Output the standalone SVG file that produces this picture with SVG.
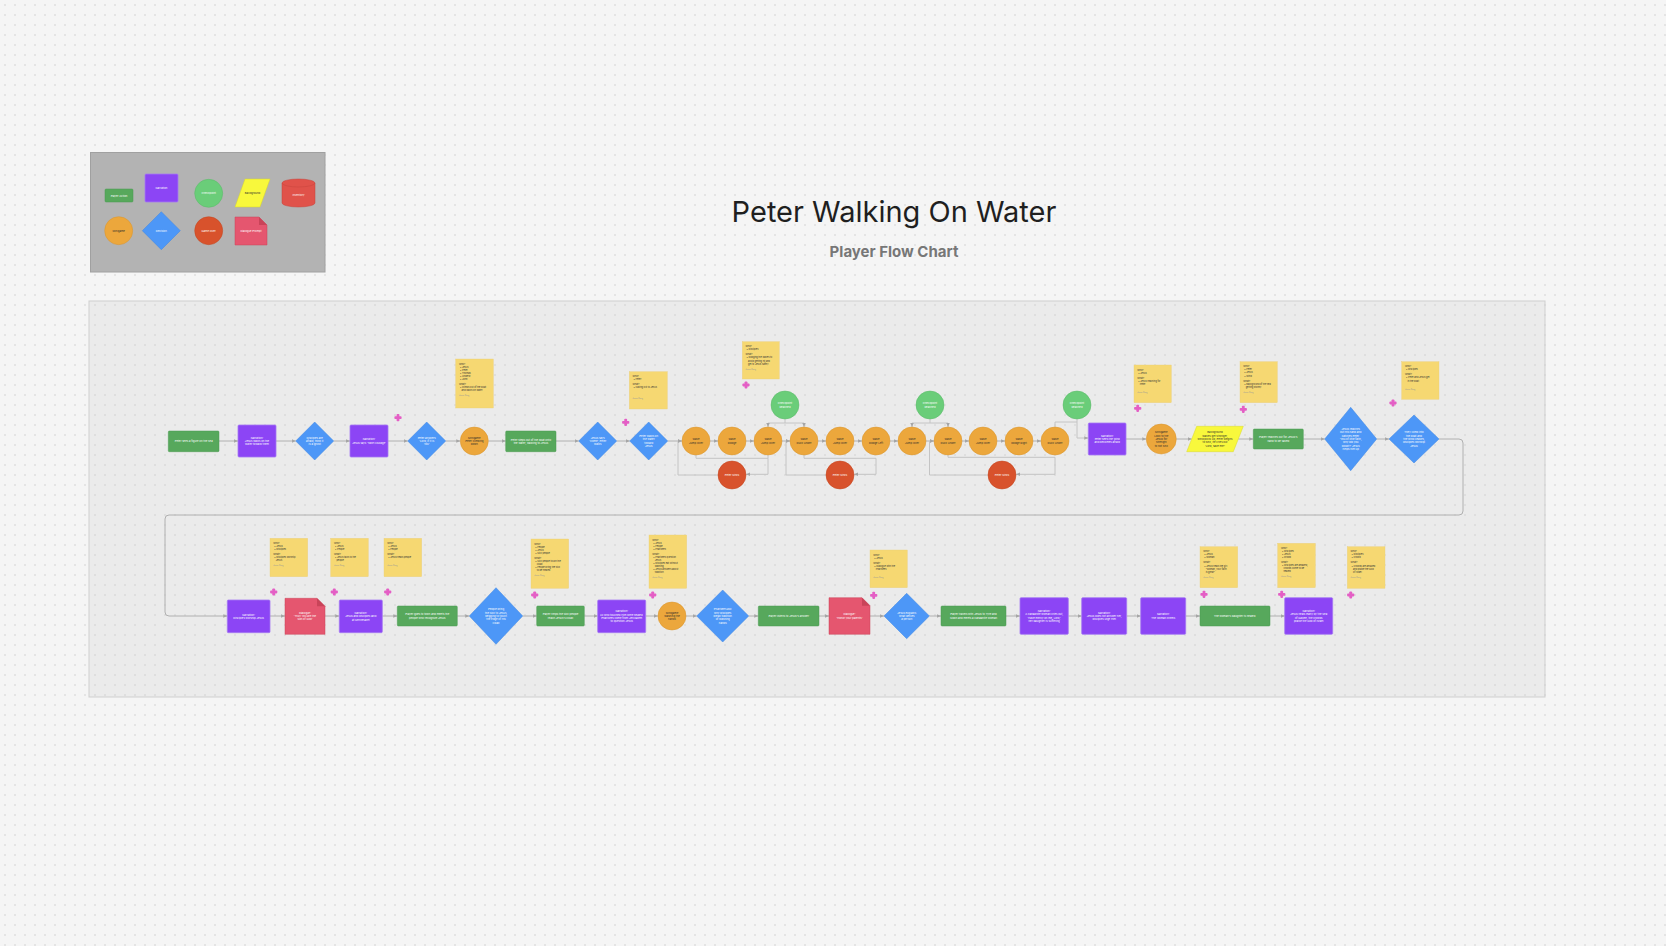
<svg xmlns="http://www.w3.org/2000/svg" width="1666" height="946" viewBox="0 0 1666 946">
<defs>
<pattern id="dots" width="10" height="10" patternUnits="userSpaceOnUse"><circle cx="5" cy="5" r="0.75" fill="#c9c9c9"/></pattern>
<marker id="ah" viewBox="0 0 10 10" refX="9" refY="5" markerWidth="4.5" markerHeight="4.5" markerUnits="userSpaceOnUse" orient="auto"><path d="M0,1 L9,5 L0,9 z" fill="#a6a6a6"/></marker>
<g id="plus"><rect x="-3.6" y="-1.4" width="7.2" height="2.8" rx="0.8"/><rect x="-1.4" y="-3.6" width="2.8" height="7.2" rx="0.8"/></g>
</defs>
<style>
.t{font-family:Inter,'Liberation Sans',sans-serif;font-size:2.7px;fill:#fff;text-anchor:middle}
.td{fill:#2b2b2b}
.sn{font-family:Inter,'Liberation Sans',sans-serif;font-size:2.3px;fill:#333}
.ft{fill:#999;font-size:1.8px}
.pa{fill:#57a85c;stroke:#4b9a50;stroke-width:0.5}
.na{fill:#8c45f5;stroke:#a57af2;stroke-width:0.8}
.dc{fill:#4d97f7;stroke:#3f86e3;stroke-width:0.5}
.mg{fill:#eca73c;stroke:#d9952e;stroke-width:0.5}
.go{fill:#d8522c;stroke:#c2461f;stroke-width:0.5}
.cy{fill:#e0524a;stroke:#c6443c;stroke-width:0.5}
.cp{fill:#6acd79;stroke:#5ab969;stroke-width:0.5}
.dl{fill:#e5566f;stroke:#c94459;stroke-width:0.5}
.bk{fill:#f8f83c;stroke:#d9d92a;stroke-width:0.5}
.st{fill:#f6d872;stroke:#ead07a;stroke-width:0.4}
.cn{fill:none;stroke:#b0b0b0;stroke-width:1;marker-end:url(#ah)}
.ln{fill:none;stroke:#b0b0b0;stroke-width:1}
.lp{fill:none;stroke:#c4c4c4;stroke-width:1;marker-end:url(#ah)}
.pl{fill:#e45fc5}
.ttl{font-family:Inter,'Liberation Sans',sans-serif;text-anchor:middle}
</style>
<rect width="1666" height="946" fill="#f5f5f5"/>
<rect x="89" y="301" width="1456" height="396" fill="#ebebeb" stroke="#cfcfcf" stroke-width="1"/>
<rect width="1666" height="946" fill="url(#dots)"/>

<g id="title">
<text class="ttl" x="894" y="222" font-size="29" fill="#1f1f1f">Peter Walking On Water</text>
<text class="ttl" x="894" y="257" font-size="15" font-weight="700" fill="#777">Player Flow Chart</text>
</g>

<g id="legend">
<rect x="90.5" y="152.5" width="234.5" height="119.5" fill="#b3b3b3" stroke="#a0a0a0"/>
<rect class="pa" x="105" y="189" width="28" height="13" rx="1"/><text class="t" x="119" y="196.5" font-size="2.5">Player Action</text>
<rect class="na" x="145" y="174" width="33" height="28" rx="1"/><text class="t" x="161.5" y="189">Narration</text>
<circle class="cp" cx="208.7" cy="193.3" r="14"/><text class="t" x="208.7" y="194.3">Checkpoint</text>
<polygon class="bk" points="245,179 270,179 260,207 235,207"/><text class="t td" x="252.5" y="194">Background</text>
<path class="cy" d="M282,183 A16.5,4 0 0 1 315,183 V203 A16.5,4 0 0 1 282,203 Z"/><path d="M282,183 A16.5,4 0 0 0 315,183" fill="none" stroke="#c6443c" stroke-width="0.5"/><text class="t" x="298.5" y="196">Inventory</text>
<circle class="mg" cx="118.7" cy="230.7" r="14"/><text class="t td" x="118.7" y="231.7">Minigame</text>
<polygon class="dc" points="161.3,211.7 180.3,230.7 161.3,249.7 142.3,230.7"/><text class="t" x="161.3" y="231.7">Decision</text>
<circle class="go" cx="208.7" cy="230.7" r="14"/><text class="t" x="208.7" y="231.7">Game Over</text>
<path class="dl" d="M235,217 H259 L267,225 V245 H235 Z"/><path d="M259,217 V225 H267 Z" fill="#c94459"/><text class="t" x="251" y="232">Dialogue Prompt</text>
</g>

<g id="connectors">
<path class="cn" d="M219,441 H238"/>
<path class="cn" d="M276,441 H295.7"/>
<path class="cn" d="M333.7,441 H350"/>
<path class="cn" d="M388,441 H407.7"/>
<path class="cn" d="M445.7,441 H460.3"/>
<path class="cn" d="M488.3,441 H505.7"/>
<path class="cn" d="M556,441 H578.7"/>
<path class="cn" d="M616.7,441 H629.7"/>
<path class="cn" d="M667.7,441 H682"/>
<path class="cn" d="M710,441 H718"/>
<path class="cn" d="M746,441 H754"/>
<path class="cn" d="M782,441 H790"/>
<path class="cn" d="M818,441 H826"/>
<path class="cn" d="M854,441 H862"/>
<path class="cn" d="M890,441 H898"/>
<path class="cn" d="M926,441 H934"/>
<path class="cn" d="M962,441 H969"/>
<path class="cn" d="M997,441 H1005"/>
<path class="cn" d="M1033,441 H1041"/>
<path class="cn" d="M1126,439 H1146.3"/>
<path class="cn" d="M1176.3,439 H1191.7"/>
<path class="cn" d="M1238.3,439 H1253.3"/>
<path class="cn" d="M1303.3,439 H1324.7"/>
<path class="cn" d="M1376.7,439 H1389"/>
<path class="cn" d="M1439,439 H1459 Q1463,439 1463,443 V511 Q1463,515 1459,515 H169 Q165,515 165,519 V612 Q165,616 169,616 H227.3"/>
<path class="lp" d="M696,455 V458.3 H768 V474.3 H746"/>
<path class="ln" style="stroke:#c4c4c4" d="M768,455 V458.3"/>
<path class="lp" d="M718,475 H678 V441 H682"/>
<path class="lp" d="M804,455 V458.3 H876 V474.3 H854"/>
<path class="lp" d="M826,475 H786 V441 H790"/>
<path class="lp" d="M948,455 V457.3 H1055 V474.3 H1016"/>
<path class="lp" d="M988,475 H929.5 V441 H934"/>
<path class="lp" d="M785,419 V423 H768 V427"/>
<path class="lp" d="M785,423 H804 V427"/>
<path class="lp" d="M930,419 V423 H912 V427"/>
<path class="lp" d="M930,423 H948 V427"/>
<path class="lp" d="M1055,427 V422 H1077 V438 H1088.3"/>
<path class="ln" style="stroke:#c4c4c4" d="M1077,419 V422"/>
<path class="cn" d="M270,616 H285"/>
<path class="cn" d="M325,616 H339.3"/>
<path class="cn" d="M382.3,616 H397.3"/>
<path class="cn" d="M457.3,616 H469.3"/>
<path class="cn" d="M522.7,616 H536.7"/>
<path class="cn" d="M584.3,616 H597.7"/>
<path class="cn" d="M645.7,616 H658"/>
<path class="cn" d="M686,616 H696.7"/>
<path class="cn" d="M748.7,616 H758.3"/>
<path class="cn" d="M819,616 H829"/>
<path class="cn" d="M870,616 H884"/>
<path class="cn" d="M929.4,616 H941"/>
<path class="cn" d="M1006,616 H1020"/>
<path class="cn" d="M1068.3,616 H1081.7"/>
<path class="cn" d="M1126.7,616 H1140.7"/>
<path class="cn" d="M1185.7,616 H1200"/>
<path class="cn" d="M1270,616 H1284.7"/>
</g>

<g id="n1"><rect class="pa" x="168.3" y="431" width="50.7" height="20.7" rx="1"/><text class="t" x="193.7" y="442.3">Peter sees a figure on the sea</text></g>
<g id="n2"><rect class="na" x="238" y="425" width="38" height="32" rx="1"/><text class="t" y="438.55"><tspan x="257">Narration:</tspan><tspan x="257" dy="3.4">Jesus walks on the</tspan><tspan x="257" dy="3.4">water toward them</tspan></text></g>
<g id="n3"><polygon class="dc" points="314.7,422 333.7,441 314.7,460 295.7,441"/><text class="t" y="438.55"><tspan x="314.7">Disciples are</tspan><tspan x="314.7" dy="3.4">afraid, think it</tspan><tspan x="314.7" dy="3.4">is a ghost</tspan></text></g>
<g id="n4"><rect class="na" x="350" y="425" width="38" height="32" rx="1"/><text class="t" y="440.25"><tspan x="369">Narration:</tspan><tspan x="369" dy="3.4">Jesus says 'Take courage'</tspan></text></g>
<g id="n5"><polygon class="dc" points="426.7,422 445.7,441 426.7,460 407.7,441"/><text class="t" y="438.55"><tspan x="426.7">Peter answers</tspan><tspan x="426.7" dy="3.4">'Lord, if it is</tspan><tspan x="426.7" dy="3.4">You'</tspan></text></g>
<g id="n6"><circle class="mg" cx="474.3" cy="441" r="14"/><text class="t td" y="438.55"><tspan x="474.3">Minigame</tspan><tspan x="474.3" dy="3.4">Peter climbing</tspan><tspan x="474.3" dy="3.4">down</tspan></text></g>
<g id="n7"><rect class="pa" x="505.7" y="431" width="50.3" height="20.7" rx="1"/><text class="t" y="440.6"><tspan x="530.9">Peter steps out of the boat onto</tspan><tspan x="530.9" dy="3.4">the water, walking to Jesus</tspan></text></g>
<g id="n8"><polygon class="dc" points="597.7,422 616.7,441 597.7,460 578.7,441"/><text class="t" y="438.55"><tspan x="597.7">Jesus says</tspan><tspan x="597.7" dy="3.4">'Come', Peter</tspan><tspan x="597.7" dy="3.4">walks</tspan></text></g>
<g id="n9"><polygon class="dc" points="648.7,422 667.7,441 648.7,460 629.7,441"/><text class="t" y="436.85"><tspan x="648.7">Peter walks on</tspan><tspan x="648.7" dy="3.4">the water</tspan><tspan x="648.7" dy="3.4">toward</tspan><tspan x="648.7" dy="3.4">Jesus</tspan></text></g>
<g id="w1"><circle class="mg" cx="696" cy="441" r="14"/><text class="t td" y="440.25"><tspan x="696">Wave</tspan><tspan x="696" dy="3.4">Jump Over</tspan></text></g>
<g id="w2"><circle class="mg" cx="732" cy="441" r="14"/><text class="t td" y="440.25"><tspan x="732">Wave</tspan><tspan x="732" dy="3.4">Dodge</tspan></text></g>
<g id="w3"><circle class="mg" cx="768" cy="441" r="14"/><text class="t td" y="440.25"><tspan x="768">Wave</tspan><tspan x="768" dy="3.4">Jump Over</tspan></text></g>
<g id="w4"><circle class="mg" cx="804" cy="441" r="14"/><text class="t td" y="440.25"><tspan x="804">Wave</tspan><tspan x="804" dy="3.4">Duck Under</tspan></text></g>
<g id="w5"><circle class="mg" cx="840" cy="441" r="14"/><text class="t td" y="440.25"><tspan x="840">Wave</tspan><tspan x="840" dy="3.4">Jump Over</tspan></text></g>
<g id="w6"><circle class="mg" cx="876" cy="441" r="14"/><text class="t td" y="440.25"><tspan x="876">Wave</tspan><tspan x="876" dy="3.4">Dodge Left</tspan></text></g>
<g id="w7"><circle class="mg" cx="912" cy="441" r="14"/><text class="t td" y="440.25"><tspan x="912">Wave</tspan><tspan x="912" dy="3.4">Jump Over</tspan></text></g>
<g id="w8"><circle class="mg" cx="948" cy="441" r="14"/><text class="t td" y="440.25"><tspan x="948">Wave</tspan><tspan x="948" dy="3.4">Duck Under</tspan></text></g>
<g id="w9"><circle class="mg" cx="983" cy="441" r="14"/><text class="t td" y="440.25"><tspan x="983">Wave</tspan><tspan x="983" dy="3.4">Jump Over</tspan></text></g>
<g id="w10"><circle class="mg" cx="1019" cy="441" r="14"/><text class="t td" y="440.25"><tspan x="1019">Wave</tspan><tspan x="1019" dy="3.4">Dodge Right</tspan></text></g>
<g id="w11"><circle class="mg" cx="1055" cy="441" r="14"/><text class="t td" y="440.25"><tspan x="1055">Wave</tspan><tspan x="1055" dy="3.4">Duck Under</tspan></text></g>
<g id="r1"><circle class="go" cx="732" cy="475" r="14"/><text class="t" x="732" y="476">Peter Sinks</text></g>
<g id="r2"><circle class="go" cx="840" cy="475" r="14"/><text class="t" x="840" y="476">Peter Sinks</text></g>
<g id="r3"><circle class="go" cx="1002" cy="475" r="14"/><text class="t" x="1002" y="476">Peter Sinks</text></g>
<g id="c1"><circle class="cp" cx="785" cy="405" r="14"/><text class="t" y="404.25"><tspan x="785">Checkpoint</tspan><tspan x="785" dy="3.4">Reached</tspan></text></g>
<g id="c2"><circle class="cp" cx="930" cy="405" r="14"/><text class="t" y="404.25"><tspan x="930">Checkpoint</tspan><tspan x="930" dy="3.4">Reached</tspan></text></g>
<g id="c3"><circle class="cp" cx="1077" cy="405" r="14"/><text class="t" y="404.25"><tspan x="1077">Checkpoint</tspan><tspan x="1077" dy="3.4">Reached</tspan></text></g>
<g id="n10"><rect class="na" x="1088.3" y="423" width="37.7" height="32" rx="1"/><text class="t" y="436.55"><tspan x="1107.2">Narration:</tspan><tspan x="1107.2" dy="3.4">Peter sees the wind</tspan><tspan x="1107.2" dy="3.4">and becomes afraid</tspan></text></g>
<g id="n11"><circle class="mg" cx="1161.3" cy="439" r="15"/><text class="t td" y="433.15"><tspan x="1161.3">Minigame</tspan><tspan x="1161.3" dy="3.4">Look to the</tspan><tspan x="1161.3" dy="3.4">Jesus for</tspan><tspan x="1161.3" dy="3.4">strength</tspan><tspan x="1161.3" dy="3.4">to not sink</tspan></text></g>
<g id="n12"><polygon class="bk" points="1196.7,426.3 1243.3,426.3 1233.3,451.7 1186.7,451.7"/><text class="t td" font-size="2.5" y="433.15"><tspan x="1215">Background</tspan><tspan x="1215" dy="3.4">Waves get stronger,</tspan><tspan x="1215" dy="3.4">wind picks up, Peter begins</tspan><tspan x="1215" dy="3.4">to sink, he cries out</tspan><tspan x="1215" dy="3.4">'Lord, save me!'</tspan></text></g>
<g id="n13"><rect class="pa" x="1253.3" y="429" width="50" height="20" rx="1"/><text class="t" y="438.25"><tspan x="1278.3">Player reaches out for Jesus's</tspan><tspan x="1278.3" dy="3.4">hand to be saved</tspan></text></g>
<g id="n14"><polygon class="dc" points="1350.7,407.3 1376.7,439 1350.7,470.7 1324.7,439"/><text class="t" y="429.75"><tspan x="1350.7">Jesus reaches</tspan><tspan x="1350.7" dy="3.4">out His hand and</tspan><tspan x="1350.7" dy="3.4">catches Peter.</tspan><tspan x="1350.7" dy="3.4">'You of little faith,</tspan><tspan x="1350.7" dy="3.4">why did you</tspan><tspan x="1350.7" dy="3.4">doubt?' Jesus</tspan><tspan x="1350.7" dy="3.4">helps him up</tspan></text></g>
<g id="n15"><polygon class="dc" points="1414,415 1439,439 1414,463 1389,439"/><text class="t" y="433.15"><tspan x="1414">They climb into</tspan><tspan x="1414" dy="3.4">the boat and</tspan><tspan x="1414" dy="3.4">the wind ceases,</tspan><tspan x="1414" dy="3.4">disciples worship</tspan><tspan x="1414" dy="3.4">Jesus</tspan></text></g>

<g id="m1"><rect class="na" x="227.3" y="600" width="42.7" height="32.7" rx="1"/><text class="t" y="615.6"><tspan x="248.65">Narration:</tspan><tspan x="248.65" dy="3.4">Disciples worship Jesus</tspan></text></g>
<g id="m2"><path class="dl" d="M285,598.3 H317 L325,606.3 V634.3 H285 Z"/><path d="M317,598.3 V606.3 H325 Z" fill="#c94459"/><text class="t" y="613.55"><tspan x="305">Dialogue:</tspan><tspan x="305" dy="3.4">'Truly You are the</tspan><tspan x="305" dy="3.4">Son of God'</tspan></text></g>
<g id="m3"><rect class="na" x="339.3" y="600" width="43" height="32.7" rx="1"/><text class="t" y="613.9"><tspan x="360.8">Narration:</tspan><tspan x="360.8" dy="3.4">Jesus and disciples land</tspan><tspan x="360.8" dy="3.4">at Gennesaret</tspan></text></g>
<g id="m4"><rect class="pa" x="397.3" y="606" width="60" height="20" rx="1"/><text class="t" y="615.25"><tspan x="427.3">Player goes to town and meets the</tspan><tspan x="427.3" dy="3.4">people who recognize Jesus</tspan></text></g>
<g id="m5"><polygon class="dc" points="496,587.7 522.7,616 496,644.3 469.3,616"/><text class="t" y="610.15"><tspan x="496">People bring</tspan><tspan x="496" dy="3.4">the sick to Jesus,</tspan><tspan x="496" dy="3.4">begging to touch</tspan><tspan x="496" dy="3.4">the edge of His</tspan><tspan x="496" dy="3.4">cloak</tspan></text></g>
<g id="m6"><rect class="pa" x="536.7" y="606" width="47.6" height="20" rx="1"/><text class="t" y="615.25"><tspan x="560.5">Player helps the sick people</tspan><tspan x="560.5" dy="3.4">reach Jesus's cloak</tspan></text></g>
<g id="m7"><rect class="na" x="597.7" y="600" width="48" height="32.7" rx="1"/><text class="t" y="612.2"><tspan x="621.7">Narration:</tspan><tspan x="621.7" dy="3.4">All who touched Him were healed.</tspan><tspan x="621.7" dy="3.4">Pharisees come from Jerusalem</tspan><tspan x="621.7" dy="3.4">to question Jesus</tspan></text></g>
<g id="m8"><circle class="mg" cx="672" cy="616" r="14"/><text class="t td" y="613.55"><tspan x="672">Minigame</tspan><tspan x="672" dy="3.4">Washing the</tspan><tspan x="672" dy="3.4">hands</tspan></text></g>
<g id="m9"><polygon class="dc" points="722.7,590 748.7,616 722.7,642 696.7,616"/><text class="t" y="610.15"><tspan x="722.7">Pharisees ask</tspan><tspan x="722.7" dy="3.4">why disciples</tspan><tspan x="722.7" dy="3.4">break tradition</tspan><tspan x="722.7" dy="3.4">of washing</tspan><tspan x="722.7" dy="3.4">hands</tspan></text></g>
<g id="m10"><rect class="pa" x="758.3" y="606" width="60.7" height="20" rx="1"/><text class="t" x="788.65" y="616.95">Player listens to Jesus's answer</text></g>
<g id="m11"><path class="dl" d="M829,597.7 H862 L870,605.7 V634.3 H829 Z"/><path d="M862,597.7 V605.7 H870 Z" fill="#c94459"/><text class="t" y="615.25"><tspan x="849.5">Dialogue:</tspan><tspan x="849.5" dy="3.4">'Honor your parents'</tspan></text></g>
<g id="m12"><polygon class="dc" points="906.7,593.3 929.4,616 906.7,638.7 884,616"/><text class="t" y="613.55"><tspan x="906.7">Jesus explains</tspan><tspan x="906.7" dy="3.4">what defiles</tspan><tspan x="906.7" dy="3.4">a person</tspan></text></g>
<g id="m13"><rect class="pa" x="941" y="606" width="65" height="20" rx="1"/><text class="t" y="615.25"><tspan x="973.5">Player travels with Jesus to Tyre and</tspan><tspan x="973.5" dy="3.4">Sidon and meets a Canaanite woman</tspan></text></g>
<g id="m14"><rect class="na" x="1020" y="597.7" width="48.3" height="36.6" rx="1"/><text class="t" y="611.85"><tspan x="1044.15">Narration:</tspan><tspan x="1044.15" dy="3.4">A Canaanite woman cries out,</tspan><tspan x="1044.15" dy="3.4">'Have mercy on me, Lord,'</tspan><tspan x="1044.15" dy="3.4">her daughter is suffering</tspan></text></g>
<g id="m15"><rect class="na" x="1081.7" y="597.7" width="45" height="36.6" rx="1"/><text class="t" y="613.55"><tspan x="1104.2">Narration:</tspan><tspan x="1104.2" dy="3.4">Jesus does not answer her,</tspan><tspan x="1104.2" dy="3.4">disciples urge Him</tspan></text></g>
<g id="m16"><rect class="na" x="1140.7" y="597.7" width="45" height="36.6" rx="1"/><text class="t" y="615.25"><tspan x="1163.2">Narration:</tspan><tspan x="1163.2" dy="3.4">The woman kneels</tspan></text></g>
<g id="m17"><rect class="pa" x="1200" y="606" width="70" height="20" rx="1"/><text class="t" x="1235" y="616.95">The woman's daughter is healed.</text></g>
<g id="m18"><rect class="na" x="1284.7" y="597.7" width="48" height="36.6" rx="1"/><text class="t" y="611.85"><tspan x="1308.7">Narration:</tspan><tspan x="1308.7" dy="3.4">Jesus heals many by the Sea</tspan><tspan x="1308.7" dy="3.4">of Galilee; the crowds</tspan><tspan x="1308.7" dy="3.4">praise the God of Israel</tspan></text></g>

<g id="s1"><rect class="st" x="455.7" y="359" width="37.6" height="49"/><text class="sn" y="364.5"><tspan x="459">Who?</tspan><tspan x="460" dy="3.1">• Jesus</tspan><tspan x="460" dy="3.1">• Peter</tspan><tspan x="460" dy="3.1">• Thomas</tspan><tspan x="460" dy="3.1">• Andrew</tspan><tspan x="460" dy="3.1">• John</tspan><tspan x="459" dy="5">What?</tspan><tspan x="460" dy="3.1">• Climbs out of the boat</tspan><tspan x="461.5" dy="3.1">and walks on water</tspan><tspan class="ft" x="459" dy="5">Jason Dong</tspan></text></g>
<g id="s2"><rect class="st" x="629.3" y="371.7" width="38" height="37.3"/><text class="sn" y="377.2"><tspan x="632.6">Who?</tspan><tspan x="633.6" dy="3.1">• Peter</tspan><tspan x="632.6" dy="5">What?</tspan><tspan x="633.6" dy="3.1">• Calling out to Jesus</tspan><tspan class="ft" x="632.6" dy="11">Jason Dong</tspan></text></g>
<g id="s3"><rect class="st" x="742.3" y="341.7" width="37" height="37.3"/><text class="sn" y="347.2"><tspan x="745.6">Who?</tspan><tspan x="746.6" dy="3.1">• Disciples</tspan><tspan x="745.6" dy="5">What?</tspan><tspan x="746.6" dy="3.1">• Dodging the waves to</tspan><tspan x="748" dy="3.1">avoid getting hit and</tspan><tspan x="748" dy="3.1">get to Jesus safely</tspan><tspan class="ft" x="745.6" dy="5">Jason Dong</tspan></text></g>
<g id="s4"><rect class="st" x="1134" y="365" width="37.3" height="37.7"/><text class="sn" y="370.5"><tspan x="1137.3">Who?</tspan><tspan x="1138.3" dy="3.1">• Jesus</tspan><tspan x="1137.3" dy="5">What?</tspan><tspan x="1138.3" dy="3.1">• Jesus reaching for</tspan><tspan x="1139.7" dy="3.1">Peter</tspan><tspan class="ft" x="1137.3" dy="8">Jason Dong</tspan></text></g>
<g id="s5"><rect class="st" x="1240" y="361.7" width="37.3" height="41"/><text class="sn" y="367.2"><tspan x="1243.3">Who?</tspan><tspan x="1244.3" dy="3.1">• Peter</tspan><tspan x="1244.3" dy="3.1">• Jesus</tspan><tspan x="1244.3" dy="3.1">• Wind</tspan><tspan x="1243.3" dy="5">What?</tspan><tspan x="1244.3" dy="3.1">• Background of the sea</tspan><tspan x="1245.7" dy="3.1">getting stormy</tspan><tspan class="ft" x="1243.3" dy="5">Jason Dong</tspan></text></g>
<g id="s6"><rect class="st" x="1401.7" y="361.7" width="37.3" height="37.6"/><text class="sn" y="367.2"><tspan x="1405">Who?</tspan><tspan x="1406" dy="3.1">• Disciples</tspan><tspan x="1405" dy="5">What?</tspan><tspan x="1406" dy="3.1">• Peter and Jesus get</tspan><tspan x="1407.4" dy="3.1">in the boat</tspan><tspan class="ft" x="1405" dy="8">Jason Dong</tspan></text></g>
<g id="s7"><rect class="st" x="270" y="538.3" width="37.7" height="38.4"/><text class="sn" y="543.8"><tspan x="273.3">Who?</tspan><tspan x="274.3" dy="3.1">• Jesus</tspan><tspan x="274.3" dy="3.1">• Disciples</tspan><tspan x="273.3" dy="5">What?</tspan><tspan x="274.3" dy="3.1">• Disciples worship</tspan><tspan x="275.7" dy="3.1">Jesus</tspan><tspan class="ft" x="273.3" dy="5">Jason Dong</tspan></text></g>
<g id="s8"><rect class="st" x="330.7" y="538.3" width="37.6" height="38.4"/><text class="sn" y="543.8"><tspan x="334">Who?</tspan><tspan x="335" dy="3.1">• Jesus</tspan><tspan x="335" dy="3.1">• People</tspan><tspan x="334" dy="5">What?</tspan><tspan x="335" dy="3.1">• Jesus talks to the</tspan><tspan x="336.4" dy="3.1">people</tspan><tspan class="ft" x="334" dy="5">Jason Dong</tspan></text></g>
<g id="s9"><rect class="st" x="384" y="538.3" width="37.7" height="38.4"/><text class="sn" y="543.8"><tspan x="387.3">Who?</tspan><tspan x="388.3" dy="3.1">• Jesus</tspan><tspan x="388.3" dy="3.1">• People</tspan><tspan x="387.3" dy="5">What?</tspan><tspan x="388.3" dy="3.1">• Jesus heals people</tspan><tspan class="ft" x="387.3" dy="8">Jason Dong</tspan></text></g>
<g id="s10"><rect class="st" x="531" y="539" width="37.7" height="49.3"/><text class="sn" y="544.5"><tspan x="534.3">Who?</tspan><tspan x="535.3" dy="3.1">• People</tspan><tspan x="535.3" dy="3.1">• Jesus</tspan><tspan x="535.3" dy="3.1">• Sick people</tspan><tspan x="534.3" dy="5">What?</tspan><tspan x="535.3" dy="3.1">• Sick people touch the</tspan><tspan x="536.7" dy="3.1">cloak</tspan><tspan x="535.3" dy="3.1">• People bring the sick</tspan><tspan x="536.7" dy="3.1">to be healed</tspan><tspan class="ft" x="534.3" dy="5">Jason Dong</tspan></text></g>
<g id="s11"><rect class="st" x="649" y="535" width="37.7" height="53.3"/><text class="sn" y="540.5"><tspan x="652.3">Who?</tspan><tspan x="653.3" dy="3.1">• Jesus</tspan><tspan x="653.3" dy="3.1">• People</tspan><tspan x="653.3" dy="3.1">• Pharisees</tspan><tspan x="652.3" dy="5">What?</tspan><tspan x="653.3" dy="3.1">• Pharisees question</tspan><tspan x="654.7" dy="3.1">Jesus</tspan><tspan x="653.3" dy="3.1">• Disciples eat without</tspan><tspan x="654.7" dy="3.1">washing</tspan><tspan x="653.3" dy="3.1">• Jesus answers about</tspan><tspan x="654.7" dy="3.1">tradition</tspan><tspan class="ft" x="652.3" dy="4.5">Jason Dong</tspan></text></g>
<g id="s12"><rect class="st" x="870" y="550" width="37.3" height="37.7"/><text class="sn" y="555.5"><tspan x="873.3">Who?</tspan><tspan x="874.3" dy="3.1">• Jesus</tspan><tspan x="873.3" dy="5">What?</tspan><tspan x="874.3" dy="3.1">• Dialogue with the</tspan><tspan x="875.7" dy="3.1">Pharisees</tspan><tspan class="ft" x="873.3" dy="8">Jason Dong</tspan></text></g>
<g id="s13"><rect class="st" x="1200" y="546.7" width="37.7" height="41"/><text class="sn" y="552.2"><tspan x="1203.3">Who?</tspan><tspan x="1204.3" dy="3.1">• Jesus</tspan><tspan x="1204.3" dy="3.1">• Woman</tspan><tspan x="1203.3" dy="5">What?</tspan><tspan x="1204.3" dy="3.1">• Jesus heals the girl</tspan><tspan x="1205.7" dy="3.1">"Woman, your faith</tspan><tspan x="1205.7" dy="3.1">is great"</tspan><tspan class="ft" x="1203.3" dy="5">Jason Dong</tspan></text></g>
<g id="s14"><rect class="st" x="1277.7" y="543.3" width="37.6" height="44.4"/><text class="sn" y="548.8"><tspan x="1281">Who?</tspan><tspan x="1282" dy="3.1">• Disciples</tspan><tspan x="1282" dy="3.1">• Jesus</tspan><tspan x="1282" dy="3.1">• Crowd</tspan><tspan x="1281" dy="5">What?</tspan><tspan x="1282" dy="3.1">• Disciples are amazed,</tspan><tspan x="1283.4" dy="3.1">crowds come to be</tspan><tspan x="1283.4" dy="3.1">healed</tspan><tspan class="ft" x="1281" dy="5">Jason Dong</tspan></text></g>
<g id="s15"><rect class="st" x="1347.3" y="546.7" width="37.7" height="41.6"/><text class="sn" y="552.2"><tspan x="1350.6">Who?</tspan><tspan x="1351.6" dy="3.1">• Disciples</tspan><tspan x="1351.6" dy="3.1">• Crowd</tspan><tspan x="1350.6" dy="5">What?</tspan><tspan x="1351.6" dy="3.1">• Crowds are amazed</tspan><tspan x="1353" dy="3.1">and praise the God</tspan><tspan x="1353" dy="3.1">of Israel</tspan><tspan class="ft" x="1350.6" dy="5">Jason Dong</tspan></text></g>

<g id="markers" class="pl">
<use href="#plus" x="398" y="417.6"/>
<use href="#plus" x="625.7" y="422.3"/>
<use href="#plus" x="746" y="385"/>
<use href="#plus" x="1137.7" y="408.3"/>
<use href="#plus" x="1243.3" y="409.3"/>
<use href="#plus" x="1393" y="403"/>
<use href="#plus" x="273.7" y="592"/>
<use href="#plus" x="334.3" y="592"/>
<use href="#plus" x="387.7" y="592"/>
<use href="#plus" x="534.7" y="595"/>
<use href="#plus" x="652.7" y="595"/>
<use href="#plus" x="873.7" y="595.3"/>
<use href="#plus" x="1204" y="594.3"/>
<use href="#plus" x="1281.7" y="594.3"/>
<use href="#plus" x="1350.7" y="595"/>
</g>
</svg>
